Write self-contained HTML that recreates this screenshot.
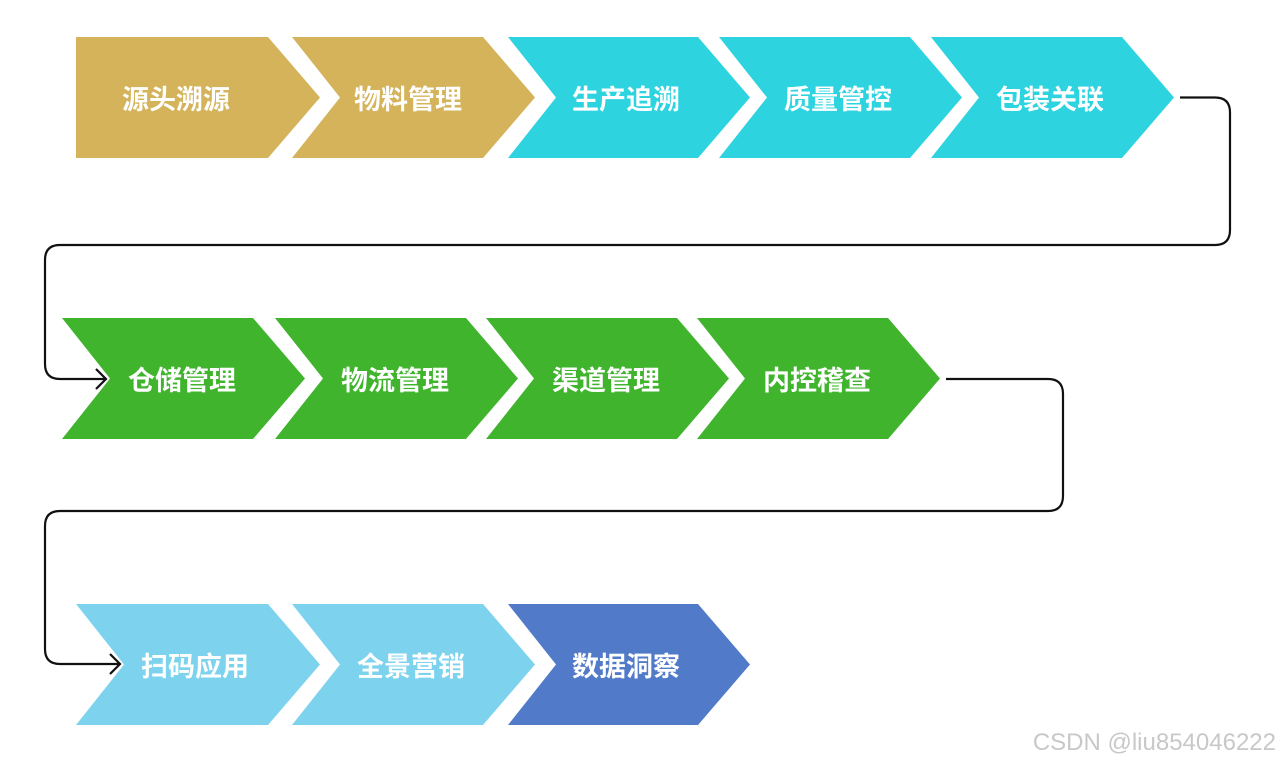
<!DOCTYPE html>
<html><head><meta charset="utf-8"><style>
html,body{margin:0;padding:0;background:#fff;width:1280px;height:763px;overflow:hidden}
svg text{font-family:"Liberation Sans","Noto Sans CJK SC",sans-serif;font-weight:bold;font-size:27px;fill:#fff}
</style></head><body>
<svg width="1280" height="763" viewBox="0 0 1280 763" xmlns="http://www.w3.org/2000/svg">
<!-- Row 1 -->
<polygon points="76,37 268,37 320,97.5 268,158 76,158" fill="#D4B35A"/>
<polygon points="292,37 483,37 535,97.5 483,158 292,158 340,97.5" fill="#D4B35A"/>
<polygon points="508,37 698,37 750,97.5 698,158 508,158 556,97.5" fill="#2DD3DF"/>
<polygon points="719,37 910,37 962,97.5 910,158 719,158 767,97.5" fill="#2DD3DF"/>
<polygon points="931,37 1122,37 1174,97.5 1122,158 931,158 979,97.5" fill="#2DD3DF"/>
<text x="176" y="109" text-anchor="middle">源头溯源</text>
<text x="408" y="109" text-anchor="middle">物料管理</text>
<text x="626" y="109" text-anchor="middle">生产追溯</text>
<text x="838" y="109" text-anchor="middle">质量管控</text>
<text x="1050" y="109" text-anchor="middle">包装关联</text>
<!-- Row 2 -->
<polygon points="62,318 253,318 305,378.5 253,439 62,439 110,378.5" fill="#3FB42C"/>
<polygon points="275,318 466,318 518,378.5 466,439 275,439 323,378.5" fill="#3FB42C"/>
<polygon points="486,318 677,318 729,378.5 677,439 486,439 534,378.5" fill="#3FB42C"/>
<polygon points="697,318 888,318 940,378.5 888,439 697,439 745,378.5" fill="#3FB42C"/>
<text x="182" y="390" text-anchor="middle">仓储管理</text>
<text x="395" y="390" text-anchor="middle">物流管理</text>
<text x="606" y="390" text-anchor="middle">渠道管理</text>
<text x="817" y="390" text-anchor="middle">内控稽查</text>
<!-- Row 3 -->
<polygon points="76,604 268,604 320,664.5 268,725 76,725 124,664.5" fill="#7DD3EE"/>
<polygon points="292,604 483,604 535,664.5 483,725 292,725 340,664.5" fill="#7DD3EE"/>
<polygon points="508,604 698,604 750,664.5 698,725 508,725 556,664.5" fill="#517AC8"/>
<text x="195" y="676" text-anchor="middle">扫码应用</text>
<text x="411" y="676" text-anchor="middle">全景营销</text>
<text x="626" y="676" text-anchor="middle">数据洞察</text>
<!-- Connectors -->
<g fill="none" stroke="#111" stroke-width="2.2">
<path d="M1180,97.5 H1215 Q1230,97.5 1230,112.5 V230 Q1230,245 1215,245 H60 Q45,245 45,260 V364 Q45,379 60,379 H106"/>
<path d="M96,369 L106,379 L96,389"/>
<path d="M946,379 H1048 Q1063,379 1063,394 V496 Q1063,511 1048,511 H60 Q45,511 45,526 V649 Q45,664 60,664 H120"/>
<path d="M110,654 L120,664 L110,674"/>
</g>
<text x="1276" y="750" text-anchor="end" style="font-weight:normal;font-size:24px;fill:#c8c8c8;font-family:'Liberation Sans',sans-serif">CSDN @liu854046222</text>
</svg>
</body></html>
